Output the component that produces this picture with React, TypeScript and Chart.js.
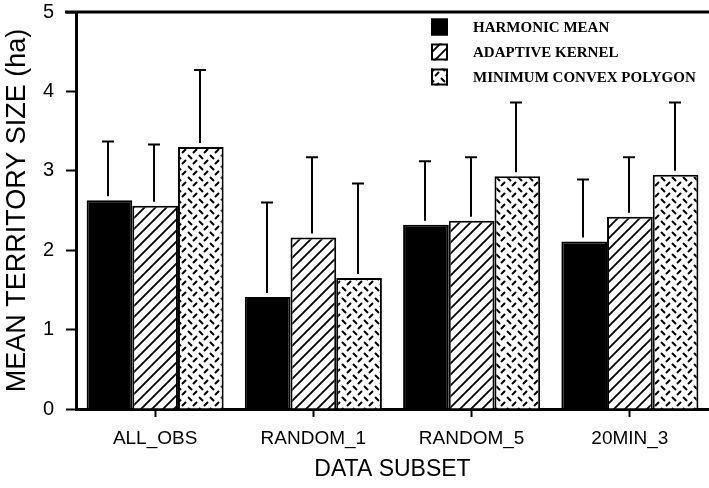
import React, { useEffect, useRef } from 'react';
import { Chart, registerables } from 'chart.js';

Chart.register(...registerables);

const categories = ['ALL_OBS', 'RANDOM_1', 'RANDOM_5', '20MIN_3'];
const seriesNames = ['HARMONIC MEAN', 'ADAPTIVE KERNEL', 'MINIMUM CONVEX POLYGON'];
const harmonicMean = [2.63, 1.41, 2.32, 2.11];
const adaptiveKernel = [2.56, 2.16, 2.37, 2.42];
const minConvexPolygon = [3.3, 1.65, 2.93, 2.95];
const harmonicMeanErr = [0.74, 1.19, 0.8, 0.78];
const adaptiveKernelErr = [0.77, 1.01, 0.8, 0.75];
const minConvexPolygonErr = [0.97, 1.19, 0.93, 0.91];
const yMin = 0;
const yMax = 5;
const yStep = 1;
const xTitle = 'DATA SUBSET';
const yTitle = 'MEAN TERRITORY SIZE (ha)';

function makeHatch(): CanvasPattern | string {
  const s = 11;
  const c = document.createElement('canvas');
  c.width = s;
  c.height = s;
  const ctx = c.getContext('2d');
  if (!ctx) return '#fff';
  ctx.fillStyle = '#fff';
  ctx.fillRect(0, 0, s, s);
  ctx.strokeStyle = '#000';
  ctx.lineWidth = 1.8;
  ctx.beginPath();
  ctx.moveTo(-1, s + 1);
  ctx.lineTo(s + 1, -1);
  ctx.moveTo(-2, 2);
  ctx.lineTo(2, -2);
  ctx.moveTo(s - 2, s + 2);
  ctx.lineTo(s + 2, s - 2);
  ctx.stroke();
  return ctx.createPattern(c, 'repeat') || '#fff';
}

function makeDots(): CanvasPattern | string {
  const s = 11;
  const c = document.createElement('canvas');
  c.width = s;
  c.height = s;
  const ctx = c.getContext('2d');
  if (!ctx) return '#fff';
  ctx.fillStyle = '#fff';
  ctx.fillRect(0, 0, s, s);
  ctx.strokeStyle = '#000';
  ctx.lineWidth = 2;
  ctx.beginPath();
  ctx.moveTo(1, 1);
  ctx.lineTo(5, 5);
  ctx.moveTo(6, 10);
  ctx.lineTo(10, 6);
  ctx.stroke();
  return ctx.createPattern(c, 'repeat') || '#fff';
}

export default function App() {
  const ref = useRef<HTMLCanvasElement | null>(null);

  useEffect(() => {
    const canvas = ref.current;
    if (!canvas) return;
    const hatch = makeHatch();
    const dots = makeDots();
    const fills: any[] = ['#000', hatch, dots];
    const values = [harmonicMean, adaptiveKernel, minConvexPolygon];
    const errs = [harmonicMeanErr, adaptiveKernelErr, minConvexPolygonErr];

    const errorBars = {
      id: 'errorBars',
      afterDatasetsDraw(chart: any) {
        const ctx = chart.ctx;
        const ys = chart.scales.y;
        ctx.save();
        ctx.strokeStyle = '#000';
        ctx.lineWidth = 2;
        chart.data.datasets.forEach((ds: any, i: number) => {
          const meta = chart.getDatasetMeta(i);
          meta.data.forEach((bar: any, j: number) => {
            const v = ds.data[j];
            const e = ds.errors[j];
            const x = Math.round(bar.x) - 1;
            const yTop = ys.getPixelForValue(v + e);
            const yBase = ys.getPixelForValue(v) - 4;
            ctx.beginPath();
            ctx.moveTo(x, yBase);
            ctx.lineTo(x, yTop);
            ctx.moveTo(x - 6, yTop);
            ctx.lineTo(x + 6, yTop);
            ctx.stroke();
          });
        });
        ctx.restore();
      },
    };

    const frameAndLegend = {
      id: 'frameAndLegend',
      afterDraw(chart: any) {
        const ctx = chart.ctx;
        const a = chart.chartArea;
        ctx.save();
        ctx.strokeStyle = '#000';
        ctx.lineWidth = 3;
        ctx.beginPath();
        ctx.moveTo(a.left - 11, a.top);
        ctx.lineTo(chart.width, a.top);
        ctx.stroke();

        const bx = 431;
        const rows = [27, 52, 77];
        const bs = 17;
        ctx.font = 'bold 15px "Liberation Serif", serif';
        ctx.textBaseline = 'middle';
        ctx.textAlign = 'left';
        seriesNames.forEach((name, i) => {
          const cy = rows[i];
          ctx.fillStyle = fills[i];
          ctx.fillRect(bx, cy - bs / 2, bs, bs);
          ctx.lineWidth = 2;
          ctx.strokeStyle = '#000';
          ctx.strokeRect(bx + 1, cy - bs / 2 + 1, bs - 2, bs - 2);
          ctx.fillStyle = '#000';
          ctx.fillText(name, 473, cy + 1);
        });
        ctx.restore();
      },
    };

    const chart = new Chart(canvas, {
      type: 'bar',
      data: {
        labels: categories,
        datasets: seriesNames.map((name, i) => ({
          label: name,
          data: values[i],
          errors: errs[i],
          backgroundColor: fills[i],
          borderColor: '#000',
          borderWidth: 2,
          categoryPercentage: 0.866,
          barPercentage: 1.0,
        })) as any,
      },
      options: {
        responsive: false,
        animation: false,
        devicePixelRatio: 1,
        layout: { padding: { top: 12, left: 0, right: 0, bottom: 0 } },
        plugins: {
          legend: { display: false },
          tooltip: { enabled: false },
        },
        scales: {
          x: {
            afterFit(scale: any) {
              scale.height = 79;
              scale.paddingLeft = 0;
              scale.paddingRight = 0;
            },
            border: { display: true, color: '#000', width: 3 },
            grid: {
              display: true,
              drawOnChartArea: false,
              drawTicks: true,
              offset: false,
              tickLength: 8,
              tickWidth: 2,
              tickColor: '#000',
            },
            ticks: {
              color: '#000',
              font: { family: '"Liberation Sans", Arial, sans-serif', size: 19 },
              padding: 10,
            },
            title: {
              display: true,
              text: xTitle,
              color: '#000',
              font: { family: '"Liberation Sans", Arial, sans-serif', size: 23 },
              padding: { top: 0, bottom: 5 },
            },
          },
          y: {
            min: yMin,
            max: yMax,
            afterFit(scale: any) {
              scale.width = 76;
              scale.paddingTop = 0;
              scale.paddingBottom = 0;
            },
            border: { display: true, color: '#000', width: 3 },
            grid: {
              display: true,
              drawOnChartArea: false,
              drawTicks: true,
              tickLength: 10,
              tickWidth: 2,
              tickColor: '#000',
            },
            ticks: {
              stepSize: yStep,
              color: '#000',
              font: { family: '"Liberation Sans", Arial, sans-serif', size: 20 },
              padding: 12,
            },
            title: {
              display: true,
              text: yTitle,
              color: '#000',
              font: { family: '"Liberation Sans", Arial, sans-serif', size: 27 },
              padding: { top: 1, bottom: 0 },
            },
          },
        },
      } as any,
      plugins: [errorBars, frameAndLegend],
    });

    return () => {
      chart.destroy();
    };
  }, []);

  return (
    <div style={{ position: 'absolute', left: 0, top: 0, width: 709, height: 488, background: '#fff' }}>
      <canvas ref={ref} width={709} height={488} style={{ display: 'block' }} />
    </div>
  );
}
